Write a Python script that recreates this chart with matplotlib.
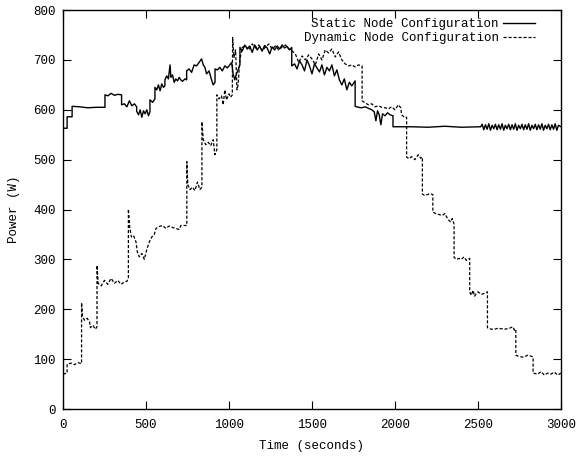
import matplotlib
matplotlib.use('Agg')
import matplotlib.pyplot as plt

matplotlib.rcParams.update({'font.size': 9, 'font.family': ['Liberation Mono', 'DejaVu Sans Mono']})

# static node configuration: time (s), power (W)
static_t = [0, 25, 25, 55, 55, 100, 150, 200, 253, 253, 270, 290, 310, 330, 353, 353, 370, 385, 400, 415,
            430, 444, 444, 455, 465, 475, 485, 495, 505, 515, 524, 524, 540, 554, 554, 565, 575, 585, 595, 605,
            614, 614, 625, 635, 645, 650, 660, 670, 680, 690, 700, 710, 720, 735, 745, 745, 760, 775, 790, 805,
            820, 835, 845, 855, 865, 880, 895, 905, 916, 916, 930, 945, 960, 975, 990, 1005, 1016, 1025, 1035, 1045,
            1055, 1066, 1066, 1080, 1095, 1110, 1125, 1140, 1155, 1170, 1185, 1200, 1215, 1230, 1245, 1260, 1275, 1290, 1305, 1320,
            1335, 1350, 1365, 1378, 1378, 1395, 1410, 1425, 1440, 1455, 1470, 1485, 1500, 1515, 1530, 1545, 1560, 1575, 1590, 1605,
            1620, 1635, 1650, 1665, 1680, 1695, 1710, 1725, 1740, 1760, 1760, 1780, 1800, 1820, 1840, 1860, 1875, 1885, 1895, 1905,
            1915, 1925, 1940, 1955, 1970, 1988, 1988, 2100, 2200, 2300, 2400, 2517, 2525, 2535, 2545, 2555, 2565, 2575, 2585, 2595,
            2605, 2615, 2625, 2635, 2645, 2655, 2665, 2675, 2685, 2695, 2705, 2715, 2725, 2735, 2745, 2755, 2765, 2775, 2785, 2795,
            2805, 2815, 2825, 2835, 2845, 2855, 2865, 2875, 2885, 2895, 2905, 2915, 2925, 2935, 2945, 2955, 2965, 2975, 2985, 3000]
static_w = [563, 563, 586, 586, 607, 606, 604, 605, 605, 630, 628, 633, 629, 631, 630, 610, 612, 606, 618, 608,
            612, 606, 597, 590, 600, 585, 598, 592, 600, 588, 596, 620, 615, 622, 645, 640, 650, 638, 652, 645,
            648, 660, 668, 662, 690, 665, 670, 655, 662, 658, 665, 660, 657, 662, 660, 678, 682, 675, 690, 688,
            695, 702, 690, 685, 672, 678, 660, 650, 655, 682, 680, 685, 678, 688, 684, 690, 695, 672, 660, 672,
            680, 690, 725, 718, 730, 722, 728, 715, 730, 720, 727, 718, 729, 724, 712, 726, 720, 728, 722, 730,
            724, 727, 720, 725, 688, 692, 682, 698, 690, 678, 700, 688, 672, 692, 684, 676, 690, 670, 685, 678,
            690, 668, 680, 660, 650, 662, 640, 655, 648, 658, 607, 605, 604, 606, 603, 600, 596, 578, 598, 590,
            570, 592, 588, 594, 590, 588, 566, 566, 565, 567, 565, 566, 571, 560, 570, 561, 572, 559, 569, 562,
            571, 560, 570, 561, 572, 559, 569, 562, 571, 560, 570, 561, 572, 559, 569, 562, 571, 560, 570, 561,
            572, 559, 569, 562, 571, 560, 570, 561, 572, 559, 569, 562, 571, 560, 570, 561, 572, 559, 569, 566]

# dynamic node configuration: time (s), power (W)
dynamic_t = [0, 25, 25, 50, 70, 90, 112, 112, 118, 130, 145, 160, 165, 180, 195, 205, 205, 212, 230, 250,
             270, 290, 310, 330, 350, 370, 385, 394, 394, 402, 412, 425, 440, 448, 460, 475, 490, 505, 520, 535,
             550, 560, 580, 600, 620, 640, 660, 680, 700, 710, 746, 746, 752, 765, 780, 795, 810, 825, 837, 837,
             845, 860, 875, 890, 905, 915, 927, 927, 940, 955, 965, 975, 985, 1000, 1010, 1020, 1022, 1030, 1040, 1048,
             1055, 1065, 1080, 1100, 1120, 1140, 1160, 1180, 1200, 1220, 1240, 1260, 1280, 1300, 1320, 1340, 1360, 1380, 1400, 1420,
             1440, 1460, 1480, 1500, 1520, 1540, 1560, 1580, 1600, 1620, 1640, 1660, 1680, 1700, 1720, 1740, 1760, 1780, 1802, 1802,
             1820, 1840, 1860, 1880, 1900, 1920, 1940, 1960, 1980, 2000, 2020, 2035, 2040, 2060, 2070, 2070, 2085, 2100, 2120, 2140,
             2155, 2165, 2165, 2180, 2195, 2210, 2228, 2228, 2245, 2265, 2285, 2300, 2320, 2335, 2345, 2356, 2356, 2370, 2385, 2400,
             2415, 2430, 2440, 2450, 2450, 2460, 2470, 2480, 2490, 2500, 2520, 2540, 2557, 2557, 2580, 2600, 2620, 2660, 2690, 2710,
             2720, 2728, 2728, 2750, 2775, 2800, 2820, 2832, 2832, 2860, 2880, 2900, 2920, 2940, 2960, 2980, 3000]
dynamic_w = [70, 72, 90, 92, 89, 93, 91, 213, 185, 178, 182, 175, 163, 168, 160, 165, 288, 252, 247, 258,
             250, 262, 252, 258, 250, 255, 256, 262, 401, 365, 345, 348, 335, 315, 305, 312, 300, 320, 335, 345,
             350, 362, 366, 368, 362, 367, 364, 362, 360, 368, 368, 496, 450, 440, 445, 438, 455, 440, 445, 576,
             540, 530, 535, 528, 540, 510, 520, 630, 622, 628, 610, 640, 620, 632, 625, 630, 745, 705, 720, 640,
             650, 700, 725, 728, 720, 732, 724, 730, 718, 726, 732, 722, 728, 720, 726, 730, 722, 718, 712, 695,
             708, 700, 710, 702, 690, 712, 700, 720, 714, 722, 706, 716, 700, 692, 688, 690, 686, 690, 688, 618,
             614, 610, 612, 606, 608, 605, 604, 602, 606, 600, 610, 604, 590, 584, 585, 505, 502, 506, 500, 510,
             503, 505, 431, 428, 430, 432, 430, 395, 392, 390, 388, 392, 380, 375, 382, 370, 304, 300, 302, 300,
             305, 298, 300, 302, 235, 228, 238, 226, 232, 235, 230, 232, 235, 163, 160, 160, 162, 160, 162, 165,
             158, 160, 108, 105, 104, 108, 106, 104, 72, 70, 75, 68, 72, 70, 74, 68, 72]

x_ticks = [0, 500, 1000, 1500, 2000, 2500, 3000]
y_ticks = [0, 100, 200, 300, 400, 500, 600, 700, 800]

fig = plt.figure(figsize=(5.82, 4.57), dpi=100)
ax = fig.add_axes([0.1082, 0.105, 0.8557, 0.873])

ax.plot(static_t, static_w, color='black', linewidth=1.0, label='Static Node Configuration')
ax.plot(dynamic_t, dynamic_w, color='black', linewidth=0.9, linestyle=(0, (2.5, 1.5)),
        label='Dynamic Node Configuration')

ax.set_xlim([0, 3000])
ax.set_ylim([0, 800])
ax.set_xticks(x_ticks)
ax.set_yticks(y_ticks)
ax.tick_params(direction='in', length=6, width=0.8, top=True, right=True, labelsize=9)
ax.tick_params(axis='x', pad=7)
ax.tick_params(axis='y', pad=5)
for s in ax.spines.values():
    s.set_linewidth(1.0)

ax.set_xlabel('Time (seconds)', fontsize=9)
ax.set_ylabel('Power (W)', fontsize=9)
ax.xaxis.set_label_coords(0.5, -0.078)
ax.yaxis.set_label_coords(-0.086, 0.5)

ax.legend(loc='upper right', bbox_to_anchor=(0.948, 0.979), frameon=False, markerfirst=False,
          fontsize=9, handlelength=2.6, handletextpad=0.3, labelspacing=0.15,
          borderaxespad=0, borderpad=0, alignment='right')

plt.savefig('out.png', dpi=100)
